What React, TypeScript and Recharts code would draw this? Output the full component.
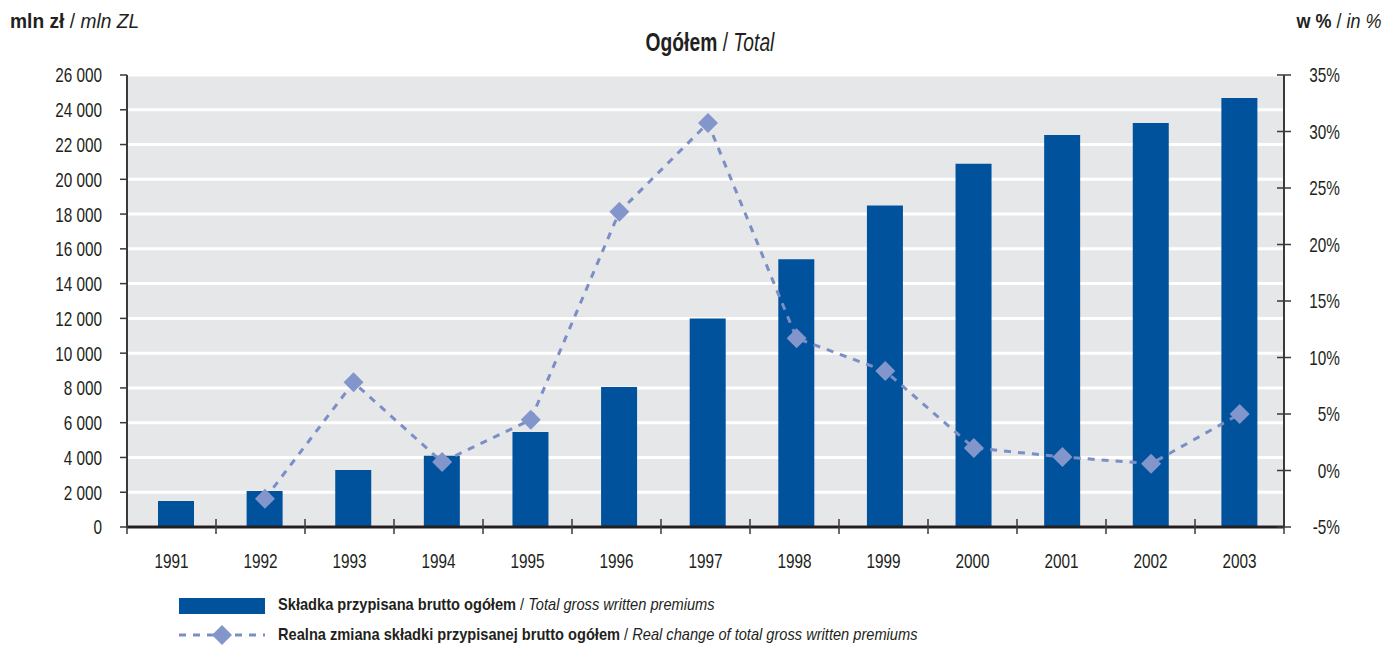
import { ComposedChart, Bar, Line, XAxis, YAxis, CartesianGrid } from 'recharts';

const years = ['1991', '1992', '1993', '1994', '1995', '1996', '1997', '1998', '1999', '2000', '2001', '2002', '2003'];
const premiums = [1500, 2070, 3280, 4100, 5460, 8050, 12000, 15400, 18500, 20900, 22550, 23240, 24680];
const realChange = [null, -2.5, 7.8, 0.75, 4.5, 22.9, 30.75, 11.7, 8.8, 2.0, 1.2, 0.6, 5.0];
const leftTicks = [0, 2000, 4000, 6000, 8000, 10000, 12000, 14000, 16000, 18000, 20000, 22000, 24000, 26000];
const rightTicks = [-5, 0, 5, 10, 15, 20, 25, 30, 35];

// condensed look: Arial-metric font squeezed horizontally
const FONT = '"Liberation Sans", Arial, sans-serif';
const SQ = 0.73;
const TEXT = '#231f20';
const AXIS = '#3a3a3a';
const BAR = '#00529c';
const LINE = '#7b8fc6';
const DIAMOND = '#8296cb';

const data = years.map((year, i) => ({ year, premium: premiums[i], change: realChange[i] }));

const fmtThousands = (v: number) => String(v).replace(/\B(?=(\d{3})+(?!\d))/g, ' ');

function Label({ x, y, anchor, children }: any) {
    return (
        <text
            transform={`translate(${x},${y}) scale(${SQ},1)`}
            textAnchor={anchor}
            dominantBaseline="central"
            fill={TEXT}
            fontSize={21}
            fontFamily={FONT}
        >
            {children}
        </text>
    );
}

function XTick(props: any) {
    const { x, y, payload, index } = props;
    const half = payload?.offset ?? 44.5;
    return (
        <g>
            <line x1={x - half} x2={x - half} y1={y - 8} y2={y + 7} stroke={AXIS} strokeWidth={1.5} />
            {index === years.length - 1 && (
                <line x1={x + half} x2={x + half} y1={y - 8} y2={y + 7} stroke={AXIS} strokeWidth={1.5} />
            )}
            <Label x={x} y={y + 34} anchor="middle">{payload.value}</Label>
        </g>
    );
}

function LeftTick(props: any) {
    const { x, y, payload } = props;
    return (
        <g>
            <line x1={x - 7} x2={x} y1={y} y2={y} stroke={AXIS} strokeWidth={1.5} />
            <Label x={x - 25} y={y} anchor="end">{fmtThousands(payload.value)}</Label>
        </g>
    );
}

function RightTick(props: any) {
    const { x, y, payload } = props;
    return (
        <g>
            <line x1={x - 7} x2={x + 7} y1={y} y2={y} stroke={AXIS} strokeWidth={1.5} />
            <Label x={x + 56} y={y} anchor="end">{`${payload.value}%`}</Label>
        </g>
    );
}

function Diamond(props: any) {
    const { cx, cy, index, value } = props;
    if (value == null || cy == null || isNaN(cy)) return <g key={`d-${index}`} />;
    const r = 10;
    return (
        <polygon
            key={`d-${index}`}
            points={`${cx},${cy - r} ${cx + r},${cy} ${cx},${cy + r} ${cx - r},${cy}`}
            fill={DIAMOND}
        />
    );
}

const squeeze = (origin: string, s = SQ): React.CSSProperties => ({
    transform: `scaleX(${s})`,
    transformOrigin: origin,
    whiteSpace: 'nowrap',
});

export default function App() {
    return (
        <div style={{ position: 'absolute', left: 0, top: 0, width: 1385, height: 645, background: '#fff', fontFamily: FONT, color: TEXT }}>
            <div style={{ position: 'absolute', left: 10, top: 10, fontSize: 20, ...squeeze('left', 0.96) }}>
                <b>mln zł</b> / <i>mln ZL</i>
            </div>
            <div style={{ position: 'absolute', right: 4, top: 10, fontSize: 20, ...squeeze('right', 0.9) }}>
                <b>w %</b> / <i>in %</i>
            </div>
            <div style={{ position: 'absolute', left: 0, width: 1420, top: 28, textAlign: 'center', fontSize: 25, ...squeeze('center', 0.77) }}>
                <b>Ogółem</b> / <i>Total</i>
            </div>

            <ComposedChart width={1385} height={645} data={data} margin={{ top: 75, right: 0, bottom: 68, left: 0 }} barCategoryGap={0}>
                <CartesianGrid yAxisId="left" xAxisId="labels" vertical={false} fill="#e6e7e9" stroke="#ffffff" strokeWidth={3} horizontalValues={leftTicks} />
                <XAxis
                    xAxisId="labels"
                    dataKey="year"
                    height={50}
                    tickSize={0}
                    tickMargin={0}
                    tick={<XTick />}
                    axisLine={{ stroke: '#231f20', strokeWidth: 3 }}
                    interval={0}
                />
                <XAxis xAxisId="marks" dataKey="year" hide padding={{ left: 5, right: 0 }} />
                <YAxis
                    yAxisId="left"
                    width={127}
                    domain={[0, 26000]}
                    ticks={leftTicks}
                    interval={0}
                    tickSize={0}
                    tickMargin={0}
                    tick={<LeftTick />}
                    axisLine={{ stroke: AXIS, strokeWidth: 2 }}
                />
                <YAxis
                    yAxisId="right"
                    orientation="right"
                    width={101}
                    domain={[-5, 35]}
                    ticks={rightTicks}
                    interval={0}
                    tickSize={0}
                    tickMargin={0}
                    tick={<RightTick />}
                    axisLine={{ stroke: AXIS, strokeWidth: 2 }}
                />
                <Bar xAxisId="marks" yAxisId="left" dataKey="premium" fill={BAR} barSize={36} isAnimationActive={false} />
                <Line
                    xAxisId="marks"
                    yAxisId="right"
                    dataKey="change"
                    stroke={LINE}
                    strokeWidth={3}
                    strokeDasharray="7 7"
                    dot={<Diamond />}
                    activeDot={false}
                    connectNulls={false}
                    isAnimationActive={false}
                />
            </ComposedChart>

            <div style={{ position: 'absolute', left: 179, top: 598, width: 86, height: 16, background: BAR }} />
            <div style={{ position: 'absolute', left: 278, top: 595, fontSize: 17, lineHeight: '20px', ...squeeze('left', 0.86) }}>
                <b>Składka przypisana brutto ogółem</b> / <i>Total gross written premiums</i>
            </div>
            <svg style={{ position: 'absolute', left: 170, top: 622 }} width={104} height={26}>
                <line x1={9} x2={95} y1={13} y2={13} stroke={LINE} strokeWidth={3} strokeDasharray="7 7" />
                <polygon points="52,3 62,13 52,23 42,13" fill={DIAMOND} />
            </svg>
            <div style={{ position: 'absolute', left: 278, top: 625, fontSize: 17, lineHeight: '20px', ...squeeze('left', 0.86) }}>
                <b>Realna zmiana składki przypisanej brutto ogółem</b> / <i>Real change of total gross written premiums</i>
            </div>
        </div>
    );
}
